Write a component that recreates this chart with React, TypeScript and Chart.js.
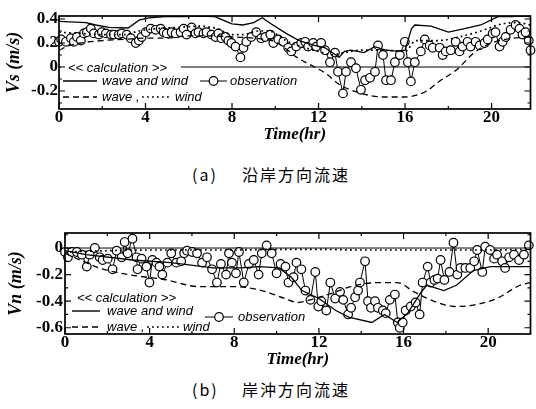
import React, { useEffect, useRef } from "react";
import { Chart, registerables } from "chart.js";
Chart.register(...registerables);

const SERIF = "'Liberation Serif', 'Times New Roman', serif";
const SANS = "'Liberation Sans', Arial, sans-serif";
const CJK = "'Noto Sans CJK JP', 'Noto Sans CJK SC', sans-serif";

// ---------- (a) Vs : longshore current ----------
const vsTicksX = [0, 4, 8, 12, 16, 20];
const vsTicksY = [-0.2, 0, 0.2, 0.4];

const vsWwT = [0, 1.25, 1.7, 2.3, 3.2, 3.7, 4.15, 4.9, 5.8, 6.45, 7.2, 8.0, 8.5, 9.0, 9.4, 9.8, 10.5, 11.1, 11.8, 12.3, 12.8, 12.95, 13.2, 13.5, 14.1, 14.6, 15.1, 15.7, 16.0, 16.3, 16.45, 17.2, 18.0, 18.75, 19.5, 20.3, 20.9, 21.3, 21.8];
const vsWwV = [0.38, 0.37, 0.35, 0.33, 0.325, 0.39, 0.41, 0.42, 0.42, 0.425, 0.42, 0.36, 0.35, 0.37, 0.41, 0.36, 0.28, 0.22, 0.18, 0.16, 0.10, 0.08, 0.13, 0.14, 0.12, 0.17, 0.14, 0.13, 0.14, 0.32, 0.35, 0.34, 0.29, 0.32, 0.35, 0.42, 0.42, 0.425, 0.42];

const vsWaveT = [0, 0.5, 1, 2, 3, 4, 5, 6, 7, 8, 9, 10, 10.5, 11, 11.6, 12.3, 13, 13.8, 15, 16, 17, 17.5, 18.4, 19.2, 20, 21, 21.8];
const vsWaveV = [0.14, 0.18, 0.2, 0.22, 0.23, 0.24, 0.24, 0.26, 0.26, 0.25, 0.24, 0.21, 0.15, 0.08, 0.02, -0.05, -0.15, -0.21, -0.25, -0.25, -0.2, -0.13, -0.02, 0.12, 0.2, 0.24, 0.25];

const vsWindT = [0, 1, 2, 3, 3.7, 4.5, 5.5, 6.5, 7.3, 8, 8.5, 9.2, 9.7, 10.5, 11.2, 12, 12.6, 13.2, 14, 15, 16, 16.5, 17.5, 18.5, 19.5, 20.5, 21.2, 21.8];
const vsWindV = [0.29, 0.28, 0.27, 0.27, 0.3, 0.32, 0.33, 0.34, 0.32, 0.27, 0.27, 0.3, 0.3, 0.22, 0.17, 0.13, 0.10, 0.12, 0.14, 0.14, 0.13, 0.22, 0.22, 0.25, 0.3, 0.36, 0.37, 0.35];

const vsObsT = [0, 0.1, 0.32, 0.55, 0.69, 0.83, 1.01, 1.15, 1.29, 1.47, 1.61, 1.84, 1.98, 2.17, 2.4, 2.53, 2.76, 2.9, 3.13, 3.32, 3.55, 3.69, 3.82, 4.01, 4.24, 4.47, 4.7, 4.84, 4.98, 5.21, 5.39, 5.62, 5.76, 5.9, 6.13, 6.31, 6.45, 6.68, 6.82, 7.05, 7.24, 7.37, 7.51, 7.7, 7.83, 7.97, 8.16, 8.39, 8.53, 8.66, 8.89, 9.12, 9.35, 9.54, 9.77, 9.91, 10.14, 10.37, 10.6, 10.74, 10.97, 11.2, 11.38, 11.52, 11.75, 11.89, 12.12, 12.3, 12.53, 12.76, 12.9, 13.13, 13.27, 13.5, 13.73, 13.96, 14.15, 14.38, 14.61, 14.75, 14.98, 15.12, 15.35, 15.53, 15.76, 15.99, 16.13, 16.27, 16.45, 16.73, 16.91, 17.14, 17.28, 17.6, 17.74, 17.88, 18.11, 18.34, 18.52, 18.66, 18.89, 19.03, 19.26, 19.45, 19.68, 19.82, 20.05, 20.18, 20.37, 20.51, 20.65, 20.88, 21.11, 21.29, 21.43, 21.57, 21.72, 21.8];
const vsObsV = [0.21, 0.23, 0.21, 0.24, 0.21, 0.25, 0.22, 0.28, 0.29, 0.32, 0.28, 0.27, 0.29, 0.28, 0.27, 0.27, 0.27, 0.28, 0.27, 0.24, 0.2, 0.22, 0.25, 0.29, 0.32, 0.31, 0.32, 0.29, 0.28, 0.29, 0.28, 0.29, 0.32, 0.27, 0.33, 0.28, 0.29, 0.28, 0.29, 0.27, 0.25, 0.28, 0.24, 0.25, 0.22, 0.2, 0.17, 0.08, 0.16, 0.21, 0.25, 0.29, 0.24, 0.25, 0.27, 0.2, 0.23, 0.21, 0.16, 0.13, 0.17, 0.2, 0.21, 0.17, 0.2, 0.17, 0.2, 0.14, 0.04, 0.12, -0.04, -0.22, -0.04, 0.04, -0.01, -0.19, -0.11, -0.09, -0.04, 0.18, 0.1, -0.11, -0.11, 0.04, 0.1, 0.21, 0.04, -0.12, 0.04, 0.13, 0.23, 0.18, 0.16, 0.16, 0.1, 0.13, 0.14, 0.21, 0.13, 0.17, 0.21, 0.17, 0.21, 0.18, 0.2, 0.23, 0.28, 0.29, 0.17, 0.21, 0.25, 0.31, 0.35, 0.32, 0.27, 0.29, 0.22, 0.14];

// ---------- (b) Vn : cross-shore current ----------
const vnTicksX = [0, 4, 8, 12, 16, 20];
const vnTicksY = [-0.6, -0.4, -0.2, 0];

const vnWwT = [0, 1, 3.2, 5, 7, 8.3, 9.2, 10.1, 10.7, 11.2, 12.0, 12.8, 13.4, 14.5, 15.1, 15.7, 16.2, 16.8, 17.1, 17.9, 18.5, 19.3, 20.1, 22];
const vnWwV = [-0.02, -0.05, -0.09, -0.11, -0.15, -0.15, -0.14, -0.15, -0.22, -0.32, -0.38, -0.47, -0.52, -0.56, -0.5, -0.56, -0.49, -0.34, -0.28, -0.32, -0.28, -0.17, -0.14, -0.14];

const vnWaveT = [0, 1, 1.6, 3, 4.8, 6.3, 7.9, 9.3, 10.4, 11, 11.8, 12.8, 13.5, 14.9, 15.7, 16.5, 17.6, 18.5, 19.3, 20.4, 21.5, 22];
const vnWaveV = [-0.04, -0.11, -0.15, -0.2, -0.24, -0.29, -0.29, -0.32, -0.38, -0.41, -0.38, -0.33, -0.29, -0.26, -0.26, -0.33, -0.41, -0.44, -0.43, -0.38, -0.28, -0.26];

const vnWindT = [0, 2, 4, 6, 8, 10, 12, 14, 16, 18, 20, 22];
const vnWindV = [-0.03, -0.02, -0.015, -0.015, -0.015, -0.01, -0.01, -0.015, -0.015, -0.015, -0.015, -0.01];

const vnObsT = [0, 0.14, 0.33, 0.56, 0.8, 1.03, 1.17, 1.41, 1.64, 1.78, 2.02, 2.25, 2.44, 2.68, 2.82, 2.96, 3.19, 3.38, 3.43, 3.62, 3.85, 3.99, 4.13, 4.32, 4.46, 4.6, 4.84, 5.02, 5.26, 5.49, 5.63, 5.77, 6.01, 6.24, 6.48, 6.71, 6.95, 7.18, 7.37, 7.61, 7.75, 7.89, 8.08, 8.22, 8.45, 8.69, 8.92, 9.15, 9.3, 9.53, 9.77, 10.0, 10.19, 10.42, 10.56, 10.8, 10.94, 11.17, 11.36, 11.6, 11.83, 11.97, 12.11, 12.35, 12.54, 12.77, 13.0, 13.15, 13.38, 13.52, 13.71, 13.85, 13.94, 14.18, 14.32, 14.46, 14.65, 14.79, 15.02, 15.16, 15.35, 15.59, 15.73, 15.82, 15.96, 16.1, 16.34, 16.57, 16.76, 16.9, 17.14, 17.28, 17.46, 17.61, 17.75, 17.93, 18.17, 18.36, 18.54, 18.69, 18.92, 19.15, 19.34, 19.48, 19.72, 19.86, 20.09, 20.28, 20.42, 20.66, 20.8, 20.99, 21.22, 21.46, 21.69, 21.92];
const vnObsV = [-0.03, -0.07, -0.03, -0.03, -0.05, -0.14, -0.05, 0.0, -0.07, -0.09, -0.08, -0.16, -0.02, -0.07, 0.045, -0.04, 0.07, -0.07, -0.16, -0.08, -0.14, -0.26, -0.09, -0.11, -0.14, -0.2, -0.11, -0.04, -0.11, -0.1, -0.04, -0.02, -0.03, -0.04, -0.11, -0.07, -0.16, -0.26, -0.12, -0.2, -0.04, -0.11, -0.19, -0.03, -0.26, -0.12, -0.09, -0.2, -0.04, 0.02, -0.04, -0.19, -0.12, -0.14, -0.26, -0.22, -0.11, -0.16, -0.32, -0.39, -0.18, -0.44, -0.4, -0.47, -0.26, -0.38, -0.33, -0.39, -0.5, -0.45, -0.37, -0.32, -0.26, -0.1, -0.4, -0.45, -0.4, -0.45, -0.47, -0.49, -0.39, -0.35, -0.56, -0.6, -0.56, -0.47, -0.44, -0.41, -0.5, -0.26, -0.14, -0.26, -0.24, -0.23, -0.09, -0.24, -0.18, 0.04, -0.2, -0.15, -0.15, -0.15, -0.1, -0.015, -0.18, 0.01, -0.015, -0.08, -0.05, -0.1, -0.15, -0.07, -0.05, -0.09, -0.05, 0.02];

const LBL_WW = "wave and wind";
const LBL_WAVE = "wave ,";
const LBL_WIND = "wind";
const LBL_OBS = "observation";
const LBL_CALC = "<< calculation >>";

const pts = (t: number[], v: number[]) => t.map((x, i) => ({ x, y: v[i] }));

function hline(ctx: CanvasRenderingContext2D, x1: number, x2: number, y: number, dash: number[], w: number) {
  ctx.save();
  ctx.setLineDash(dash);
  ctx.lineWidth = w;
  ctx.strokeStyle = "#000";
  ctx.beginPath();
  ctx.moveTo(x1, y);
  ctx.lineTo(x2, y);
  ctx.stroke();
  ctx.restore();
}

const framePlugin = {
  id: "frameTicks",
  beforeDatasetsDraw(chart: any) {
    const { ctx, chartArea: a } = chart;
    const y0 = chart.scales.y.getPixelForValue(0);
    ctx.save();
    ctx.strokeStyle = "#000";
    ctx.lineWidth = 1;
    ctx.beginPath();
    ctx.moveTo(a.left, y0);
    ctx.lineTo(a.right, y0);
    ctx.stroke();
    ctx.restore();
  },
  afterDatasetsDraw(chart: any, _args: any, opts: any) {
    const { ctx, chartArea: a } = chart;
    const xs = chart.scales.x;
    const ys = chart.scales.y;
    const L = opts.legend;
    ctx.save();
    // legend
    ctx.fillStyle = "#fff";
    ctx.fillRect(L.box[0], L.box[1], L.box[2], L.box[3]);
    ctx.fillStyle = "#000";
    ctx.font = `italic 13px ${SANS}`;
    ctx.textBaseline = "middle";
    ctx.textAlign = "left";
    ctx.fillText(LBL_CALC, L.calc[0], L.calc[1]);
    hline(ctx, L.solid[0], L.solid[1], L.solid[2], [], 1.4);
    ctx.fillText(LBL_WW, L.solid[3], L.solid[2]);
    hline(ctx, L.obs[0], L.obs[1], L.obs[2], [], 1);
    ctx.beginPath();
    ctx.arc((L.obs[0] + L.obs[1]) / 2, L.obs[2], 4.3, 0, Math.PI * 2);
    ctx.fillStyle = "#fff";
    ctx.fill();
    ctx.lineWidth = 1.2;
    ctx.strokeStyle = "#000";
    ctx.stroke();
    ctx.fillStyle = "#000";
    ctx.fillText(LBL_OBS, L.obs[3], L.obs[2]);
    hline(ctx, L.dash[0], L.dash[1], L.dash[2], [6, 4], 1.3);
    ctx.fillText(LBL_WAVE, L.dash[3], L.dash[2]);
    hline(ctx, L.dot[0], L.dot[1], L.dot[2], [1.8, 3.2], 1.7);
    ctx.fillText(LBL_WIND, L.dot[3], L.dot[2]);

    // frame
    ctx.strokeStyle = "#000";
    ctx.setLineDash([]);
    ctx.lineWidth = 1.7;
    ctx.strokeRect(a.left, a.top, a.right - a.left, a.bottom - a.top);
    // x ticks
    ctx.lineWidth = 1.2;
    for (let t = 0; t <= xs.max + 1e-9; t += 2) {
      const px = xs.getPixelForValue(t);
      const len = t % 4 === 0 ? 6 : 3;
      ctx.beginPath();
      ctx.moveTo(px, a.bottom);
      ctx.lineTo(px, a.bottom - len);
      ctx.moveTo(px, a.top);
      ctx.lineTo(px, a.top + len);
      ctx.stroke();
    }
    // y ticks
    const k0 = Math.ceil(ys.min / 0.1 - 1e-9);
    const k1 = Math.floor(ys.max / 0.1 + 1e-9);
    for (let k = k0; k <= k1; k++) {
      const py = ys.getPixelForValue(k * 0.1);
      const len = k % 2 === 0 ? 6 : 3;
      ctx.beginPath();
      ctx.moveTo(a.left, py);
      ctx.lineTo(a.left + len, py);
      ctx.moveTo(a.right, py);
      ctx.lineTo(a.right - len, py);
      ctx.stroke();
    }
    ctx.restore();
  },
};

function makeConfig(p: {
  ww: any[]; wave: any[]; wind: any[]; obs: any[];
  xMax: number; yMin: number; yMax: number; xTicks: number[]; yTicks: number[];
  yTitle: string; yWidth: number; yTitlePad: number; yTickPad: number; padTop: number; legend: any;
}): any {
  return {
    type: "line",
    data: {
      datasets: [
        { label: LBL_WW, data: p.ww, borderColor: "#000", borderWidth: 1.3, pointRadius: 0, tension: 0 },
        { label: LBL_WAVE, data: p.wave, borderColor: "#000", borderWidth: 1.3, borderDash: [6, 4], pointRadius: 0, cubicInterpolationMode: "monotone" },
        { label: LBL_WIND, data: p.wind, borderColor: "#000", borderWidth: 1.7, borderDash: [1.8, 3.2], pointRadius: 0, cubicInterpolationMode: "monotone" },
        {
          label: LBL_OBS, data: p.obs, borderColor: "#000", borderWidth: 1, pointRadius: 4.3,
          pointBackgroundColor: "#fff", pointBorderColor: "#000", pointBorderWidth: 1.2, tension: 0, clip: false,
        },
      ],
    },
    options: {
      animation: false,
      responsive: false,
      devicePixelRatio: 1,
      layout: { padding: { left: 0, right: 3, top: p.padTop, bottom: 0 } },
      plugins: { legend: { display: false }, tooltip: { enabled: false }, frameTicks: { legend: p.legend } },
      scales: {
        x: {
          type: "linear", min: 0, max: p.xMax, bounds: "data",
          grid: { display: false, drawTicks: false }, border: { display: false },
          afterBuildTicks: (s: any) => { s.ticks = p.xTicks.map((v) => ({ value: v })); },
          afterFit: (s: any) => { s.height = 41; },
          ticks: { autoSkip: false, maxRotation: 0, padding: 0, color: "#000", font: { family: SERIF, size: 17, weight: "bold", lineHeight: 1 }, callback: (v: any) => String(v) },
          title: { display: true, text: "Time(hr)", color: "#000", font: { family: SERIF, size: 17, weight: "bold", style: "italic" }, padding: { top: 0, bottom: 5 } },
        },
        y: {
          type: "linear", min: p.yMin, max: p.yMax, bounds: "data",
          grid: { display: false, drawTicks: false }, border: { display: false },
          afterBuildTicks: (s: any) => { s.ticks = p.yTicks.map((v) => ({ value: v })); },
          afterFit: (s: any) => { s.width = p.yWidth; },
          ticks: { autoSkip: false, padding: p.yTickPad, color: "#000", font: { family: SERIF, size: 17, weight: "bold" }, callback: (v: any) => String(v) },
          title: { display: true, text: p.yTitle, color: "#000", font: { family: SERIF, size: 18, weight: "bold", style: "italic" }, padding: { top: p.yTitlePad, bottom: 0 } },
        },
      },
    },
    plugins: [framePlugin],
  };
}

export default function App() {
  const ref1 = useRef<HTMLCanvasElement | null>(null);
  const ref2 = useRef<HTMLCanvasElement | null>(null);

  useEffect(() => {
    const c1 = new Chart(ref1.current as HTMLCanvasElement, makeConfig({
      ww: pts(vsWwT, vsWwV), wave: pts(vsWaveT, vsWaveV), wind: pts(vsWindT, vsWindV), obs: pts(vsObsT, vsObsV),
      xMax: 21.8, yMin: -0.35, yMax: 0.425, xTicks: vsTicksX, yTicks: vsTicksY,
      yTitle: "Vs (m/s)", yWidth: 59, yTitlePad: 4, yTickPad: 1, padTop: 16,
      legend: {
        box: [61, 61, 120, 14],
        calc: [68, 68],
        solid: [63, 97, 81, 102],
        obs: [200, 227, 81, 230],
        dash: [63, 97, 97, 102],
        dot: [142, 170, 97, 175],
      },
    }));
    const c2 = new Chart(ref2.current as HTMLCanvasElement, makeConfig({
      ww: pts(vnWwT, vnWwV), wave: pts(vnWaveT, vnWaveV), wind: pts(vnWindT, vnWindV), obs: pts(vnObsT, vnObsV),
      xMax: 22, yMin: -0.647, yMax: 0.113, xTicks: vnTicksX, yTicks: vnTicksY,
      yTitle: "Vn (m/s)", yWidth: 65, yTitlePad: 6, yTickPad: 2, padTop: 33,
      legend: {
        box: [70, 91, 116, 14],
        calc: [77, 98],
        solid: [72, 100, 111, 107],
        obs: [205, 233, 117, 238],
        dash: [72, 100, 127, 107],
        dot: [147, 180, 127, 183],
      },
    }));
    return () => { c1.destroy(); c2.destroy(); };
  }, []);

  const cap = (top: number, a: string, b: string) => (
    <>
      <span style={{ position: "absolute", left: 192, top, fontFamily: CJK, fontSize: 16, lineHeight: "16px", letterSpacing: 2, color: "#000" }}>{a}</span>
      <span style={{ position: "absolute", left: 242, top, fontFamily: CJK, fontSize: 16, lineHeight: "16px", letterSpacing: 2, color: "#000" }}>{b}</span>
    </>
  );

  return (
    <div style={{ position: "absolute", left: 0, top: 0, width: 536, height: 409, background: "#fff", overflow: "hidden" }}>
      <canvas ref={ref1} width={536} height={150} style={{ position: "absolute", left: 0, top: 0, width: 536, height: 150 }} />
      {cap(166, "(a)", "沿岸方向流速")}
      <canvas ref={ref2} width={536} height={175} style={{ position: "absolute", left: 0, top: 200, width: 536, height: 175 }} />
      {cap(381, "(b)", "岸沖方向流速")}
    </div>
  );
}
